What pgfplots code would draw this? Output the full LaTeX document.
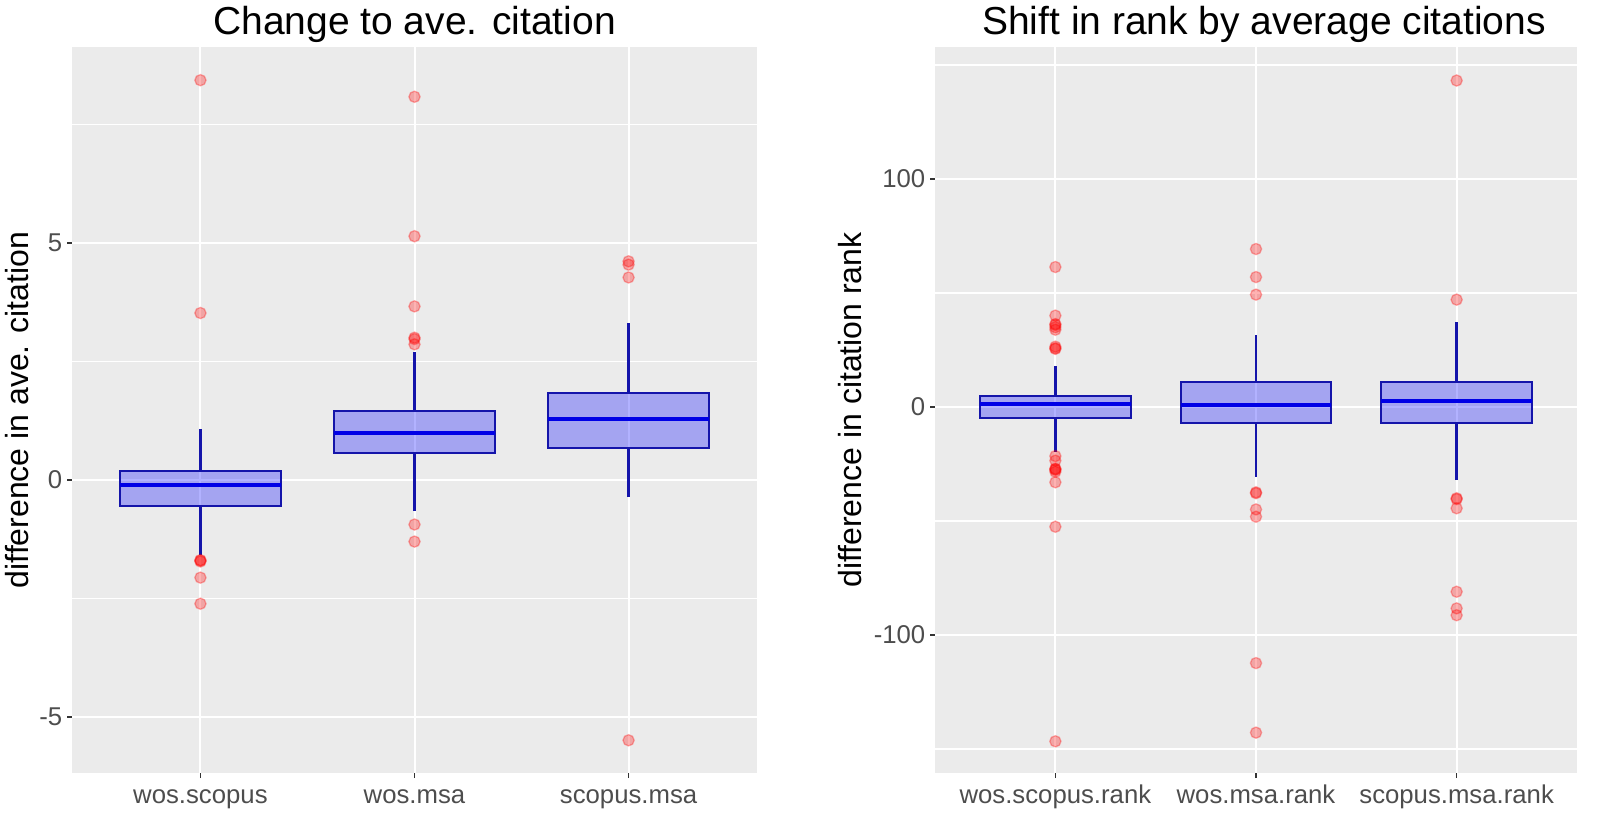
\documentclass[border=0pt]{standalone}
\usepackage{pgfplots}
\pgfplotsset{compat=1.18}
\usepgfplotslibrary{statistics}
\usepackage{fontspec}
\setmainfont{Liberation Sans}
\definecolor{ggbg}{HTML}{EBEBEB}
\definecolor{ticklab}{HTML}{4D4D4D}
\definecolor{tickcol}{HTML}{333333}
\definecolor{boxline}{RGB}{20,20,170}
\definecolor{medblue}{RGB}{0,0,230}
\pgfplotsset{
  ggstyle/.style={
    scale only axis,
    axis background/.style={fill=ggbg},
    axis line style={draw=none},
    xmin=0.4, xmax=3.6, xtick={1,2,3},
    grid=both,
    major grid style={white, line width=1.5pt},
    minor grid style={white, line width=0.9pt},
    tick align=outside, tick pos=left,
    major tick length=3.75pt, minor tick length=0pt,
    tick style={tickcol, line width=1pt},
    ticklabel style={font=\fontsize{19.3}{22}\selectfont, text=ticklab},
    xticklabel style={text height=1.45ex, text depth=0.3ex, yshift=-8pt},
    title style={at={(0.5,1)}, anchor=base, yshift=3.5pt, font=\fontsize{29.25}{35}\selectfont},
    boxplot/draw direction=y,
    boxplot/every box/.style={draw=boxline, fill=blue, fill opacity=0.3, line width=1.5pt},
    boxplot/every whisker/.style={draw=boxline, line width=1.8pt},
    boxplot/every median/.style={draw=medblue, line width=3pt},
    boxplot/whisker extend=0,
  },
  outl/.style={only marks, mark=*, mark size=4.2pt,
    mark options={fill=red, draw=red, fill opacity=0.3, draw opacity=0.3, line width=1pt}},
}
\begin{document}
\begin{tikzpicture}
\useasboundingbox (0,0) rectangle (1200pt,-612pt);
% ---------------- left panel ----------------
\begin{axis}[ggstyle,
  at={(54pt,-579.75pt)}, anchor=south west,
  width=513.75pt, height=544.5pt,
  ymin=-6.18, ymax=9.13,
  ytick={-5,0,5}, yticklabels={-5,0,5},
  minor ytick={-2.5,2.5,7.5},
  xticklabels={wos.scopus,wos.msa,scopus.msa},
  title={Change to ave. citation},
  ylabel={difference in ave. citation},
  every axis y label/.style={at={(axis description cs:-0.0803,0.5)}, rotate=90, anchor=center,
    font=\fontsize{24}{28}\selectfont},
]
\addplot[boxplot prepared={draw position=1, box extend=0.75,
  lower whisker=-1.58, lower quartile=-0.556, median=-0.099,
  upper quartile=0.197, upper whisker=1.07}] coordinates {};
\addplot[boxplot prepared={draw position=2, box extend=0.75,
  lower whisker=-0.65, lower quartile=0.57, median=0.98,
  upper quartile=1.46, upper whisker=2.69}] coordinates {};
\addplot[boxplot prepared={draw position=3, box extend=0.75,
  lower whisker=-0.36, lower quartile=0.68, median=1.28,
  upper quartile=1.84, upper whisker=3.30}] coordinates {};
\addplot[outl] coordinates {
  (1,8.43) (1,3.52) (1,-1.69) (1,-1.70) (1,-1.72) (1,-2.06) (1,-2.61)
  (2,8.08) (2,5.14) (2,3.66) (2,3.00) (2,2.97) (2,2.86) (2,-0.94) (2,-1.30)
  (3,4.61) (3,4.54) (3,4.27) (3,-5.49)
};
\end{axis}
% ---------------- right panel ----------------
\begin{axis}[ggstyle,
  at={(701.25pt,-579.75pt)}, anchor=south west,
  width=481.5pt, height=544.5pt,
  ymin=-160.5, ymax=157.9,
  ytick={-100,0,100}, yticklabels={-100,0,100},
  minor ytick={-150,-50,50,150},
  xticklabels={wos.scopus.rank,wos.msa.rank,scopus.msa.rank},
  title={Shift in rank by average citations},
  title style={xshift=6pt},
  ylabel={difference in citation rank},
  every axis y label/.style={at={(axis description cs:-0.1324,0.5)}, rotate=90, anchor=center,
    font=\fontsize{24}{28}\selectfont},
]
\addplot[boxplot prepared={draw position=1, box extend=0.75,
  lower whisker=-19.6, lower quartile=-5.0, median=1.2,
  upper quartile=5.0, upper whisker=18.1}] coordinates {};
\addplot[boxplot prepared={draw position=2, box extend=0.75,
  lower whisker=-30.6, lower quartile=-7.2, median=0.9,
  upper quartile=10.9, upper whisker=31.4}] coordinates {};
\addplot[boxplot prepared={draw position=3, box extend=0.75,
  lower whisker=-32.0, lower quartile=-7.2, median=2.5,
  upper quartile=10.9, upper whisker=37.1}] coordinates {};
\addplot[outl] coordinates {
  (1,61.4) (1,40.1) (1,36.4) (1,36.0) (1,35.0) (1,33.9) (1,26.5) (1,25.8) (1,25.5)
  (1,-21.5) (1,-23.5) (1,-27.0) (1,-27.3) (1,-27.6) (1,-28.4) (1,-33.0) (1,-52.5) (1,-146.6)
  (2,69.3) (2,57.0) (2,49.3) (2,-37.4) (2,-37.8) (2,-44.9) (2,-48.1) (2,-112.3) (2,-142.8)
  (3,143.2) (3,47.1) (3,-40.0) (3,-40.4) (3,-44.4) (3,-81.0) (3,-88.3) (3,-91.3)
};
\end{axis}
\end{tikzpicture}
\end{document}
